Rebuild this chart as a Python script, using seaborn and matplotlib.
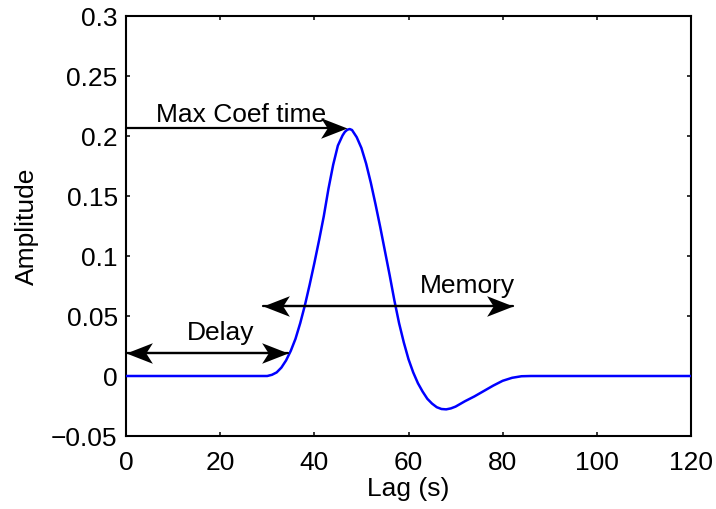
import numpy as np
import pandas as pd
import matplotlib
matplotlib.use("Agg")
import matplotlib.pyplot as plt
from matplotlib.path import Path
import seaborn as sns

# ---- data ----
lag_s = [0, 4, 8, 12, 16, 20, 24, 28, 30, 31, 32, 33, 34, 35, 36, 37, 38, 39,
         40, 41, 42, 43, 44, 45, 46, 46.5, 47, 47.5, 48, 49, 50, 51, 52, 53,
         54, 55, 56, 57, 58, 59, 60, 61, 62, 63, 64, 65, 66, 67, 68, 69, 70,
         72, 74, 76, 78, 80, 82, 84, 86, 90, 100, 110, 120]
amplitude = [0, 0, 0, 0, 0, 0, 0, 0, 0.000, 0.001, 0.003, 0.007, 0.013, 0.021,
             0.031, 0.044, 0.059, 0.076, 0.094, 0.113, 0.133, 0.156, 0.176,
             0.192, 0.2005, 0.2035, 0.2052, 0.2058, 0.2050, 0.199, 0.190,
             0.177, 0.161, 0.143, 0.124, 0.104, 0.084, 0.063, 0.044, 0.028,
             0.014, 0.003, -0.006, -0.013, -0.019, -0.023, -0.026, -0.0275,
             -0.0278, -0.027, -0.0255, -0.021, -0.017, -0.0125, -0.008,
             -0.004, -0.0015, -0.0002, 0, 0, 0, 0, 0]

x_ticks = [0, 20, 40, 60, 80, 100, 120]
y_ticks = [-0.05, 0, 0.05, 0.1, 0.15, 0.2, 0.25, 0.3]
y_tick_labels = ["\u22120.05", "0", "0.05", "0.1", "0.15", "0.2", "0.25", "0.3"]

# annotations
ann_labels = ["Max Coef time", "Delay", "Memory"]
ann_x0 = [0, 0, 29.2]
ann_x1 = [46.9, 34.5, 82.3]
ann_y = [0.207, 0.0194, 0.058]
ann_double = [False, True, True]
ann_text_x = [24.5, 20.0, 72.5]
ann_text_y = [0.2115, 0.030, 0.069]

df = pd.DataFrame({"Lag (s)": lag_s, "Amplitude": amplitude})

sns.set_theme(style="ticks")
plt.rcParams["font.family"] = ["Liberation Sans", "DejaVu Sans"]
plt.rcParams["text.color"] = "black"
plt.rcParams["axes.labelcolor"] = "black"

FS = 19

fig = plt.figure(figsize=(7.16, 5.09), dpi=100)
ax = fig.add_axes([126 / 716, 73 / 509, (691 - 126) / 716, (436 - 16) / 509])

sns.lineplot(data=df, x="Lag (s)", y="Amplitude", ax=ax, color="#0000ff",
             linewidth=1.8, zorder=3)

ax.set_xlim(0, 120)
ax.set_ylim(-0.05, 0.3)
ax.set_xticks(x_ticks)
ax.set_xticklabels([str(t) for t in x_ticks])
ax.set_yticks(y_ticks)
ax.set_yticklabels(y_tick_labels)
ax.tick_params(direction="in", length=3.2, width=1.1, top=True, right=True,
               labelsize=FS, colors="black")
ax.tick_params(axis="y", pad=6)
ax.tick_params(axis="x", pad=11)
for s in ax.spines.values():
    s.set_visible(True)
    s.set_linewidth(1.5)
    s.set_color("black")
ax.set_xlabel("Lag (s)", fontsize=FS, labelpad=1)
ax.set_ylabel("Amplitude", fontsize=FS, labelpad=9)

# MATLAB-like arrowhead with swept back (tip at origin)
head_r = Path([(0, 0), (-1, 0.39), (-0.75, 0), (-1, -0.39), (0, 0)],
              [Path.MOVETO, Path.LINETO, Path.LINETO, Path.LINETO, Path.CLOSEPOLY])
head_l = Path([(0, 0), (1, 0.39), (0.75, 0), (1, -0.39), (0, 0)],
              [Path.MOVETO, Path.LINETO, Path.LINETO, Path.LINETO, Path.CLOSEPOLY])

for lab, x0, x1, y, dbl, tx, ty in zip(ann_labels, ann_x0, ann_x1, ann_y,
                                         ann_double, ann_text_x, ann_text_y):
    ax.plot([x0, x1 - 3], [y, y], color="black", linewidth=1.6, zorder=4,
            clip_on=False)
    if dbl:
        ax.plot([x0 + 3, x1], [y, y], color="black", linewidth=1.6, zorder=4,
                clip_on=False)
        ax.plot([x0], [y], marker=head_l, markersize=38, color="black",
                markeredgewidth=0, linestyle="none", zorder=5, clip_on=False)
    ax.plot([x1], [y], marker=head_r, markersize=38, color="black",
            markeredgewidth=0, linestyle="none", zorder=5, clip_on=False)
    ax.text(tx, ty, lab, fontsize=FS, ha="center", va="baseline", zorder=6)

fig.savefig("out.png", dpi=100)
